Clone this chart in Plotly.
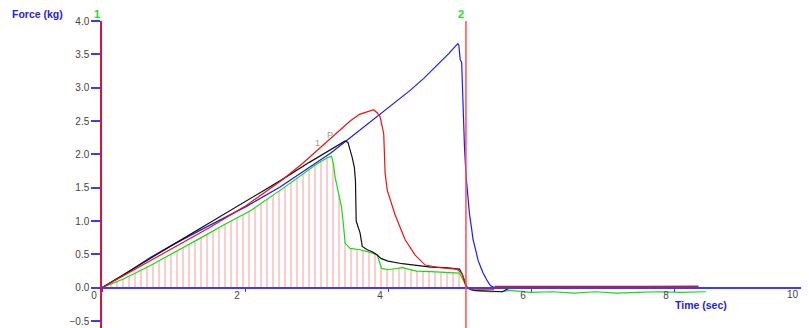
import plotly.graph_objects as go

# ---------------- data ----------------
black_t = [0, 0.5, 1.0, 1.5, 2.0, 2.5, 2.9, 3.1, 3.25, 3.35, 3.40, 3.44, 3.47, 3.50, 3.53,
           3.545, 3.555, 3.58, 3.61, 3.64, 3.71, 3.78, 3.85, 3.90, 4.0, 4.2, 4.4, 4.6, 4.8,
           5.0, 5.04, 5.07, 5.10, 5.2, 5.4, 5.6, 5.65, 5.75, 6.0, 6.5, 7.0, 7.5, 8.0, 8.34]
black_f = [0, 0.33, 0.65, 0.97, 1.29, 1.61, 1.88, 2.01, 2.11, 2.17, 2.20, 2.18, 2.07, 1.95, 1.80,
           1.60, 1.00, 0.92, 0.82, 0.62, 0.57, 0.54, 0.49, 0.44, 0.40, 0.36, 0.33, 0.31, 0.30,
           0.28, 0.20, 0.08, 0.0, -0.04, -0.05, -0.06, -0.03, 0.01, 0.01, 0.01, 0.02, 0.02, 0.01, 0.02]

red_t = [0, 0.5, 1.0, 1.5, 2.0, 2.5, 2.8, 3.0, 3.19, 3.35, 3.47, 3.6, 3.75, 3.8, 3.85, 3.89,
         3.91, 3.94, 3.96, 3.99, 4.1, 4.24, 4.38, 4.52, 4.73, 4.96, 5.03, 5.06, 5.08, 5.11,
         5.17, 5.47, 5.5, 6.0, 6.5, 7.0, 7.5, 8.0, 8.34]
red_f = [0, 0.30, 0.60, 0.90, 1.22, 1.60, 1.86, 2.05, 2.24, 2.38, 2.50, 2.60, 2.66, 2.67, 2.62, 2.56,
         2.46, 2.31, 1.71, 1.46, 1.09, 0.72, 0.49, 0.34, 0.30, 0.28, 0.22, 0.14, 0.07, 0.0,
         -0.03, -0.03, 0.02, 0.02, 0.02, 0.02, 0.02, 0.02, 0.02]

blue_t = [0, 0.3, 0.67, 1.0, 1.37, 1.7, 2.02, 2.49, 2.9, 3.2, 3.4, 3.6, 3.87, 4.1, 4.31, 4.5,
          4.7, 4.85, 4.95, 4.975, 4.99, 5.0, 5.01, 5.03, 5.04, 5.05, 5.07, 5.09, 5.11, 5.14,
          5.17, 5.19, 5.23, 5.26, 5.30, 5.33, 5.38, 5.42, 5.45, 5.5, 6.0, 7.0, 8.0, 9.0, 10.0]
blue_f = [0, 0.19, 0.45, 0.65, 0.86, 1.04, 1.22, 1.51, 1.80, 2.02, 2.19, 2.36, 2.59, 2.78, 2.96, 3.14,
          3.35, 3.51, 3.63, 3.66, 3.64, 3.55, 3.42, 3.38, 3.00, 2.60, 2.10, 1.70, 1.40, 1.10,
          0.88, 0.72, 0.55, 0.41, 0.30, 0.22, 0.12, 0.05, 0.02, 0.0, 0.0, 0.0, 0.0, 0.0, 0.0]

green_t = [0, 0.3, 0.67, 1.0, 1.37, 1.7, 2.07, 2.49, 2.8, 3.0, 3.15, 3.21, 3.24, 3.26, 3.30,
           3.35, 3.38, 3.40, 3.47, 3.61, 3.75, 3.85, 3.91, 4.0, 4.2, 4.4, 4.6, 4.8, 5.0, 5.03,
           5.07, 5.1, 5.15, 5.22, 5.4, 5.6, 5.7, 5.8, 6.0, 6.3, 6.6, 6.9, 7.2, 7.5, 7.8, 8.1, 8.45]
green_f = [0, 0.13, 0.33, 0.52, 0.74, 0.94, 1.15, 1.46, 1.70, 1.85, 1.95, 1.97, 1.84, 1.66, 1.46,
           1.21, 0.91, 0.67, 0.59, 0.57, 0.53, 0.49, 0.29, 0.27, 0.30, 0.25, 0.24, 0.23, 0.22, 0.16,
           0.06, 0.01, -0.03, -0.045, -0.06, -0.06, -0.04, -0.05, -0.07, -0.06, -0.08, -0.06, -0.08,
           -0.07, -0.06, -0.07, -0.06]

cursor_t = [0.0, 5.09]
cursor_labels = ["1", "2"]
x_tick_vals = [0, 2, 4, 6, 8]
x_tick_text = ["0", "2", "4", "6", "8"]
peak_marks = [("1", 3.02, 2.17), ("P", 3.19, 2.29)]

X_RANGE = [0, 9.888]
Y_RANGE = [-0.604, 4.0]

FONT = "Liberation Sans, Arial"

# ---------------- figure ----------------
fig = go.Figure()

# hatched area under the green curve between the two cursors
hx = [t for t in green_t if t <= cursor_t[1]]
hy = green_f[:len(hx)]
fig.add_trace(go.Scatter(
    x=hx, y=hy, mode="lines", line=dict(width=0), fill="tozeroy",
    fillpattern=dict(shape="|", size=6, solidity=0.22,
                     fgcolor="rgba(255,70,70,0.85)", bgcolor="rgba(0,0,0,0)"),
    hoverinfo="skip"))

for t, f, c in [(blue_t, blue_f, "#1a1aff"), (green_t, green_f, "#11dd11"),
                (black_t, black_f, "#111111"), (red_t, red_f, "#ee1111")]:
    fig.add_trace(go.Scatter(x=t, y=f, mode="lines", line=dict(color=c, width=1.2)))

fig.add_shape(type="line", xref="x", yref="paper", x0=cursor_t[1], x1=cursor_t[1],
              y0=0, y1=1, line=dict(color="#ff4d4d", width=1.5))

for lab, t in zip(cursor_labels, cursor_t):
    fig.add_annotation(x=t, y=1, xref="x", yref="paper", text=f"<b>{lab}</b>",
                       showarrow=False, xshift=-5, yshift=7, yanchor="middle",
                       font=dict(color="#22dd22", size=11, family=FONT))

for lab, t, f in peak_marks:
    fig.add_annotation(x=t, y=f, xref="x", yref="y", text=lab, showarrow=False,
                       font=dict(color="#999999", size=9, family=FONT))

fig.add_annotation(x=-0.0912, y=1.022, xref="paper", yref="paper", text="<b>Force (kg)</b>",
                   showarrow=False, xanchor="center", yanchor="middle",
                   font=dict(color="#2222ee", size=10.5, family=FONT))
fig.add_annotation(x=0.847, y=0.0749, xref="paper", yref="paper", text="<b>Time (sec)</b>",
                   showarrow=False, xanchor="center", yanchor="middle",
                   font=dict(color="#2222ee", size=10.5, family=FONT))
fig.add_annotation(x=0.9887, y=0.1075, xref="paper", yref="paper", text="10",
                   showarrow=False, xanchor="right", yanchor="middle",
                   font=dict(color="#444444", size=10, family=FONT))

pos0 = (0 - Y_RANGE[0]) / (Y_RANGE[1] - Y_RANGE[0])

# page body has an 8px margin, so the figure is 801x320 to fill the 809x328 window
fig.update_layout(
    width=801, height=320, margin=dict(l=94, r=0, t=13, b=0, autoexpand=False),
    plot_bgcolor="white", paper_bgcolor="white", showlegend=False,
    font=dict(family=FONT, size=10, color="#444444"),
    xaxis=dict(range=X_RANGE, tickvals=x_tick_vals, ticktext=x_tick_text,
               showgrid=False, zeroline=False, showline=True, linecolor="#3b3bff",
               linewidth=1.5, ticks="outside", ticklen=4, tickcolor="#3b3bff", tickwidth=1,
               anchor="free", position=pos0, ticklabelshift=-8, ticklabelstandoff=-5,
               automargin=False, tickfont=dict(size=10, color="#444444")),
    yaxis=dict(range=Y_RANGE, dtick=0.5, tick0=0, tickformat=".1f", automargin=False,
               showgrid=False, zeroline=False, showline=True, linecolor="#e0103a",
               linewidth=1.5, ticks="outside", ticklen=9, tickcolor="#3b3bff", tickwidth=1.5,
               tickfont=dict(size=10, color="#444444")),
)

fig.write_html("out.html")
